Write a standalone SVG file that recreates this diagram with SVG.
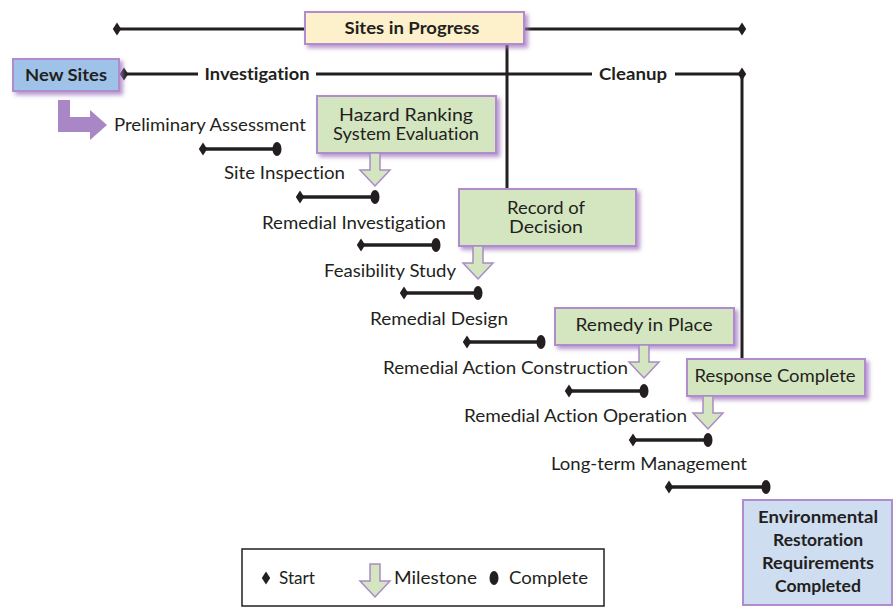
<svg xmlns="http://www.w3.org/2000/svg" width="896" height="607" viewBox="0 0 896 607">
<defs>
<style>
.t{font-family:Lato,"Open Sans","Liberation Sans",sans-serif;font-size:17px;fill:#231f20;font-variant-ligatures:none}
.b{font-family:Lato,"Open Sans","Liberation Sans",sans-serif;font-size:17px;font-weight:bold;fill:#231f20;font-variant-ligatures:none}
.ln{stroke:#231f20;stroke-width:3;fill:none}
.bar{stroke:#231f20;stroke-width:3.5;fill:none}
.dk{fill:#231f20}
.box{stroke:#b08ccc;stroke-width:2}
.ms{fill:#d4e6c0;stroke:#a98bc8;stroke-width:1.5}
</style>
<filter id="sh" x="-10%" y="-20%" width="125%" height="150%">
<feDropShadow dx="3" dy="3" stdDeviation="2" flood-color="#9b72bd" flood-opacity="0.75"/>
</filter>
<path id="dia" d="M0,-6.5 L4.2,0 L0,6.5 L-4.2,0 Z"/>
<path id="mst" d="M-5,0 H5 V17 H15 L0,33 L-15,17 H-5 Z"/>
</defs>

<g id="connectors">
<line class="ln" x1="117" y1="29" x2="742" y2="29"/>
<use href="#dia" x="117" y="29" class="dk"/>
<use href="#dia" x="742" y="29" class="dk"/>
<line class="ln" x1="124" y1="74" x2="198" y2="74"/>
<line class="ln" x1="316" y1="74" x2="592" y2="74"/>
<line class="ln" x1="675" y1="74" x2="742" y2="74"/>
<use href="#dia" x="124" y="74" class="dk"/>
<use href="#dia" x="742" y="74" class="dk"/>
<line class="ln" x1="742" y1="74" x2="742" y2="360"/>
<line class="ln" x1="507" y1="44" x2="507" y2="190"/>
<text class="b" x="257" y="80" text-anchor="middle" textLength="105" lengthAdjust="spacingAndGlyphs">Investigation</text>
<text class="b" x="633" y="80" text-anchor="middle" textLength="68" lengthAdjust="spacingAndGlyphs">Cleanup</text>
<polygon points="58,100 70,100 70,117 90,117 90,110 107,125 90,140 90,132 58,132" fill="#a986c6"/>
</g>

<g id="sites-in-progress">
<rect class="box" x="305" y="12" width="219" height="32" fill="#fdf1cc" filter="url(#sh)"/>
<text class="b" x="412" y="34" text-anchor="middle" textLength="135" lengthAdjust="spacingAndGlyphs">Sites in Progress</text>
</g>

<g id="new-sites">
<rect class="box" x="13" y="59" width="106" height="32" fill="#9fc3e8" filter="url(#sh)"/>
<text class="b" x="66" y="81" text-anchor="middle" textLength="82" lengthAdjust="spacingAndGlyphs">New Sites</text>
</g>

<g id="preliminary-assessment">
<text class="t" x="114" y="131" textLength="192" lengthAdjust="spacingAndGlyphs">Preliminary Assessment</text>
<line class="bar" x1="203" y1="149" x2="277" y2="149"/>
<use href="#dia" x="203" y="149" class="dk"/>
<ellipse cx="277" cy="149" rx="4.5" ry="7" class="dk"/>
</g>

<g id="site-inspection">
<text class="t" x="224" y="179" textLength="121" lengthAdjust="spacingAndGlyphs">Site Inspection</text>
<line class="bar" x1="300" y1="197" x2="375" y2="197"/>
<use href="#dia" x="300" y="197" class="dk"/>
<ellipse cx="375" cy="197" rx="4.5" ry="7" class="dk"/>
</g>

<g id="remedial-investigation">
<text class="t" x="262" y="229" textLength="184" lengthAdjust="spacingAndGlyphs">Remedial Investigation</text>
<line class="bar" x1="361" y1="245" x2="436" y2="245"/>
<use href="#dia" x="361" y="245" class="dk"/>
<ellipse cx="436" cy="245" rx="4.5" ry="7" class="dk"/>
</g>

<g id="feasibility-study">
<text class="t" x="324" y="277" textLength="132" lengthAdjust="spacingAndGlyphs">Feasibility Study</text>
<line class="bar" x1="404" y1="293" x2="478" y2="293"/>
<use href="#dia" x="404" y="293" class="dk"/>
<ellipse cx="478" cy="293" rx="4.5" ry="7" class="dk"/>
</g>

<g id="remedial-design">
<text class="t" x="370" y="325" textLength="138" lengthAdjust="spacingAndGlyphs">Remedial Design</text>
<line class="bar" x1="467" y1="342" x2="541" y2="342"/>
<use href="#dia" x="467" y="342" class="dk"/>
<ellipse cx="541" cy="342" rx="4.5" ry="7" class="dk"/>
</g>

<g id="remedial-action-construction">
<text class="t" x="383" y="374" textLength="245" lengthAdjust="spacingAndGlyphs">Remedial Action Construction</text>
<line class="bar" x1="569" y1="391" x2="644" y2="391"/>
<use href="#dia" x="569" y="391" class="dk"/>
<ellipse cx="644" cy="391" rx="4.5" ry="7" class="dk"/>
</g>

<g id="remedial-action-operation">
<text class="t" x="464" y="422" textLength="223" lengthAdjust="spacingAndGlyphs">Remedial Action Operation</text>
<line class="bar" x1="633" y1="440" x2="708" y2="440"/>
<use href="#dia" x="633" y="440" class="dk"/>
<ellipse cx="708" cy="440" rx="4.5" ry="7" class="dk"/>
</g>

<g id="long-term-management">
<text class="t" x="551" y="470" textLength="196" lengthAdjust="spacingAndGlyphs">Long-term Management</text>
<line class="bar" x1="669" y1="487" x2="766" y2="487"/>
<use href="#dia" x="669" y="487" class="dk"/>
<ellipse cx="766" cy="487" rx="4.5" ry="7" class="dk"/>
</g>

<g id="hazard-ranking">
<rect class="box" x="317" y="96" width="179" height="57" fill="#d4e6c0" filter="url(#sh)"/>
<text class="t" x="406" y="121" text-anchor="middle" textLength="134" lengthAdjust="spacingAndGlyphs">Hazard Ranking</text>
<text class="t" x="406" y="140" text-anchor="middle" textLength="146" lengthAdjust="spacingAndGlyphs">System Evaluation</text>
<use href="#mst" x="375" y="153" class="ms"/>
</g>

<g id="record-of-decision">
<rect class="box" x="459" y="189" width="177" height="57" fill="#d4e6c0" filter="url(#sh)"/>
<text class="t" x="546" y="214" text-anchor="middle" textLength="78" lengthAdjust="spacingAndGlyphs">Record of</text>
<text class="t" x="546" y="233" text-anchor="middle" textLength="74" lengthAdjust="spacingAndGlyphs">Decision</text>
<use href="#mst" x="478" y="246" class="ms"/>
</g>

<g id="remedy-in-place">
<rect class="box" x="555" y="308" width="179" height="37" fill="#d4e6c0" filter="url(#sh)"/>
<text class="t" x="644" y="331" text-anchor="middle" textLength="137" lengthAdjust="spacingAndGlyphs">Remedy in Place</text>
<use href="#mst" x="644" y="345" class="ms"/>
</g>

<g id="response-complete">
<rect class="box" x="687" y="359" width="178" height="37" fill="#d4e6c0" filter="url(#sh)"/>
<text class="t" x="775" y="382" text-anchor="middle" textLength="161" lengthAdjust="spacingAndGlyphs">Response Complete</text>
<use href="#mst" x="708" y="396" class="ms"/>
</g>

<g id="env-restoration">
<rect class="box" x="743" y="500" width="149" height="105" fill="#cfddf1"/>
<text class="b" x="818" y="523" text-anchor="middle" textLength="120" lengthAdjust="spacingAndGlyphs">Environmental</text>
<text class="b" x="818" y="546" text-anchor="middle" textLength="90" lengthAdjust="spacingAndGlyphs">Restoration</text>
<text class="b" x="818" y="569" text-anchor="middle" textLength="112" lengthAdjust="spacingAndGlyphs">Requirements</text>
<text class="b" x="818" y="592" text-anchor="middle" textLength="86" lengthAdjust="spacingAndGlyphs">Completed</text>
</g>

<g id="legend">
<rect x="242" y="549" width="362" height="57" fill="#ffffff" stroke="#231f20" stroke-width="1.5"/>
<use href="#dia" x="266" y="578" class="dk"/>
<text class="t" x="279" y="584" textLength="36" lengthAdjust="spacingAndGlyphs">Start</text>
<use href="#mst" x="375" y="564" class="ms"/>
<text class="t" x="394" y="584" textLength="83" lengthAdjust="spacingAndGlyphs">Milestone</text>
<ellipse cx="494" cy="578" rx="4.5" ry="7" class="dk"/>
<text class="t" x="509" y="584" textLength="79" lengthAdjust="spacingAndGlyphs">Complete</text>
</g>
</svg>
